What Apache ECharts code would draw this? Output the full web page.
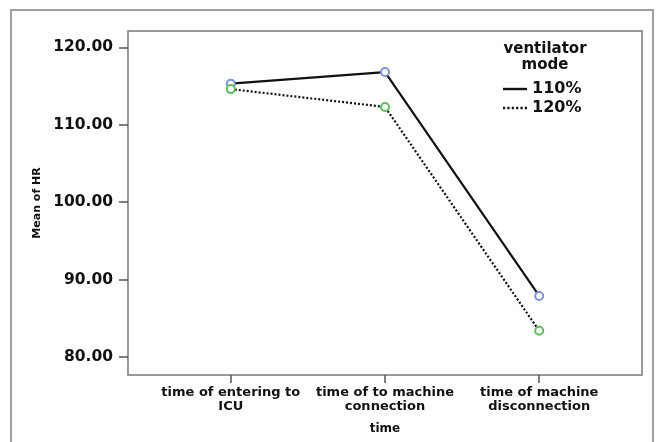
<!DOCTYPE html>
<html>
<head>
<meta charset="utf-8">
<script src="https://cdn.jsdelivr.net/npm/echarts@6/dist/echarts.min.js"></script>
<style>
html,body{margin:0;padding:0;background:#fff;}
#chart{width:657px;height:442px;}
</style>
</head>
<body>
<div id="chart"></div>
<script>
var categories = ['time of entering to\nICU', 'time of to machine\nconnection', 'time of machine\ndisconnection'];
var categoryPos = [1, 2, 3];
var seriesNames = ['110%', '120%'];
var hr110 = [115.3, 116.8, 87.9];
var hr120 = [114.6, 112.3, 83.4];
var yTicks = [80, 90, 100, 110, 120];

var FONT = 'DejaVu Sans';
function pairs(vals){ return vals.map(function(v,i){ return [categoryPos[i], v]; }); }

var solidIcon = 'path://M0,0h24v2.4h-24z';
var dotIcon = 'path://M0,0h2v2.2h-2z M4,0h2v2.2h-2z M8,0h2v2.2h-2z M12,0h2v2.2h-2z M16,0h2v2.2h-2z M20,0h2v2.2h-2z';

var chart = echarts.init(document.getElementById('chart'));
chart.setOption({
  animation: false,
  backgroundColor: '#fff',
  graphic: [{
    type: 'rect', silent: true, z: -1,
    shape: {x: 11, y: 10, width: 642, height: 460},
    style: {fill: 'none', stroke: '#808080', lineWidth: 1.5}
  }],
  title: {
    text: 'ventilator\nmode',
    left: 540, top: 36, textAlign: 'center',
    textStyle: {fontFamily: FONT, fontWeight: 'bold', fontSize: 15, lineHeight: 16, color: '#111'}
  },
  legend: {
    orient: 'vertical',
    left: 498, top: 76,
    itemWidth: 24, itemHeight: 2.4, itemGap: 3,
    data: [
      {name: seriesNames[0], icon: solidIcon, itemStyle: {color: '#111', borderWidth: 0}},
      {name: seriesNames[1], icon: dotIcon, itemStyle: {color: '#111', borderWidth: 0}}
    ],
    textStyle: {fontFamily: FONT, fontWeight: 'bold', fontSize: 16, lineHeight: 16, color: '#111'}
  },
  grid: {
    left: 128, top: 31, right: 15, bottom: 67,
    show: true, borderColor: '#777', borderWidth: 1.5, backgroundColor: 'transparent'
  },
  xAxis: {
    type: 'value',
    min: 1/3, max: 11/3,
    name: 'time', nameLocation: 'middle', nameGap: 48,
    nameTextStyle: {fontFamily: FONT, fontWeight: 'bold', fontSize: 12, color: '#111'},
    splitLine: {show: false},
    axisLine: {show: false},
    axisTick: {show: true, length: 8, customValues: categoryPos, lineStyle: {color: '#555', width: 1.5}},
    axisLabel: {
      customValues: categoryPos, margin: 11,
      fontFamily: FONT, fontWeight: 'bold', fontSize: 13, lineHeight: 14, color: '#111',
      formatter: function(v){ return categories[Math.round(v) - 1] || ''; }
    }
  },
  yAxis: {
    type: 'value',
    min: 77.7, max: 122.1,
    name: 'Mean of HR', nameLocation: 'middle', nameGap: 84, nameRotate: 90,
    nameTextStyle: {fontFamily: FONT, fontWeight: 'bold', fontSize: 11, color: '#111'},
    splitLine: {show: false},
    axisLine: {show: false},
    axisTick: {show: true, length: 9, customValues: yTicks, lineStyle: {color: '#555', width: 1.5}},
    axisLabel: {
      customValues: yTicks, margin: 15,
      fontFamily: FONT, fontWeight: 'bold', fontSize: 15.5, color: '#111',
      formatter: function(v){ return v.toFixed(2); }
    }
  },
  series: [{
    name: seriesNames[0], type: 'line', data: pairs(hr110),
    symbol: 'emptyCircle', symbolSize: 8,
    lineStyle: {color: '#111', width: 2.2, type: 'solid'},
    itemStyle: {color: '#7f93d9', borderColor: '#7f93d9', borderWidth: 1.5}
  }, {
    name: seriesNames[1], type: 'line', data: pairs(hr120),
    symbol: 'emptyCircle', symbolSize: 8,
    lineStyle: {color: '#111', width: 2.2, type: [2, 2]},
    itemStyle: {color: '#5cbf5c', borderColor: '#5cbf5c', borderWidth: 1.5}
  }]
});
</script>
</body>
</html>
